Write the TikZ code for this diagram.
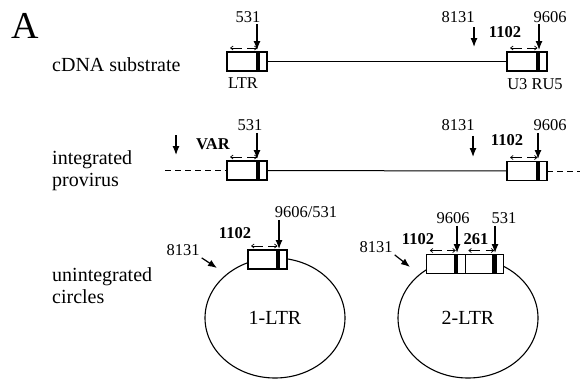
\documentclass[tikz,border=0pt]{standalone}
\usepackage{fontspec}
\setmainfont{Liberation Serif}
\usetikzlibrary{arrows.meta,shapes.geometric,positioning}

\tikzset{
  ltrBox/.style={draw, fill=white, line width=1.1pt, minimum width=40pt, minimum height=19pt, inner sep=0pt, outer sep=0pt},
  numLabel/.style={font=\fontsize{16.5}{18}\selectfont, inner sep=2pt, anchor=base},
  boldLabel/.style={numLabel, font=\fontsize{16.5}{18}\selectfont\bfseries},
  rowLabel/.style={font=\fontsize{20}{22}\selectfont, align=left, inner sep=0pt, anchor=west},
  siteArrow/.style={-{Latex[length=9pt,width=7pt]}, line width=1.2pt},
  repeatArrow/.style={{Straight Barb[length=2.5pt,width=4pt]}-{Straight Barb[length=2.5pt,width=4pt]}, line width=0.7pt, dash pattern=on 11pt off 5.5pt},
  hostDna/.style={line width=1pt, dash pattern=on 6pt off 4pt},
  ltrCircle/.style={draw, ellipse, line width=1.1pt, minimum width=140pt, minimum height=120pt, inner sep=0pt, font=\fontsize{20}{22}\selectfont}
}

\begin{document}
\begin{tikzpicture}[x=1pt, y=-1pt]
\useasboundingbox (0,0) rectangle (580,378);

% panel letter and row labels
\node[font=\fontsize{38}{40}\selectfont, anchor=base west, inner sep=0pt] (panel) at (11,38) {A};
\node[rowLabel, anchor=base west] (cdnaLbl) at (52,71) {cDNA substrate};
\node[rowLabel] (provLbl) at (52,171) {integrated\\provirus};
\node[rowLabel] (circLbl) at (52,286) {unintegrated\\circles};

% cDNA substrate
\node[ltrBox] (cdnaL) at (247,61.5) {};
\node[ltrBox] (cdnaR) at (527,61.5) {};
\draw[line width=1pt] (cdnaL) -- (cdnaR);
\node[numLabel] (ltrLbl) at (243,88) {LTR};
\node[numLabel] (u3Lbl) at (535,89) {U3 RU5};
\node[numLabel] (l531a) at (248,22) {531};
\node[numLabel] (l8131a) at (458,22) {8131};
\node[numLabel] (l9606a) at (550,22) {9606};
\node[boldLabel] (l1102a) at (505,37.5) {1102};
\coordinate (t531a) at (257,50);
\coordinate (t8131a) at (474,47);
\coordinate (t9606a) at (539,50);
\draw[siteArrow] (l531a.south -| t531a) -- (t531a);
\draw[siteArrow] ([yshift=-3pt]l8131a.south -| t8131a) -- (t8131a);
\draw[siteArrow] (l9606a.south -| t9606a) -- (t9606a);

% integrated provirus
\node[ltrBox] (provL) at (247,170.5) {};
\node[ltrBox] (provR) at (527,171) {};
\draw[line width=1pt] (provL) -- (provR);
\coordinate (hostL) at (165,170.5);
\coordinate (hostR) at (580,171);
\draw[hostDna] (hostL) -- (provL.west);
\draw[hostDna] (provR.east) -- (hostR);
\node[numLabel] (l531b) at (250,130.5) {531};
\node[boldLabel] (varLbl) at (213,149.5) {VAR};
\node[numLabel] (l8131b) at (458,130.5) {8131};
\node[numLabel] (l9606b) at (550,130.5) {9606};
\node[boldLabel] (l1102b) at (507,145.5) {1102};
\coordinate (varS) at (176,135);
\coordinate (varT) at (176,155);
\coordinate (t531b) at (257,159);
\coordinate (t8131b) at (473,157);
\coordinate (t9606b) at (538,159);
\draw[siteArrow] (varS) -- (varT);
\draw[siteArrow] (l531b.south -| t531b) -- (t531b);
\draw[siteArrow] ([yshift=-3pt]l8131b.south -| t8131b) -- (t8131b);
\draw[siteArrow] (l9606b.south -| t9606b) -- (t9606b);

% unintegrated circles
\node[ltrCircle] (oneLtr) at (275,318) {1-LTR};
\node[ltrCircle] (twoLtr) at (468,318) {2-LTR};
\node[ltrBox, minimum width=39pt] (oneL) at (267.5,259.5) {};
\node[ltrBox, minimum width=38.5pt] (twoL) at (446,264) {};
\node[ltrBox, minimum width=38.5pt, right=0pt of twoL] (twoR) {};
\node[numLabel] (l9606c) at (306,217.5) {9606/531};
\node[boldLabel] (l1102c) at (235,238.5) {1102};
\node[numLabel] (l8131c) at (183,255.5) {8131};
\node[numLabel] (l9606d) at (453,223.5) {9606};
\node[numLabel] (l531d) at (504,223.5) {531};
\node[boldLabel] (l1102d) at (418,244.5) {1102};
\node[boldLabel] (l261d) at (476,244.5) {261};
\node[numLabel] (l8131d) at (376,252.5) {8131};
\coordinate (t9606c) at (279,249);
\coordinate (t8131c) at (217,268);
\coordinate (t9606d) at (457,253);
\coordinate (t531d) at (495,253);
\coordinate (t8131d) at (410,267);
\draw[siteArrow] (l9606c.south -| t9606c) -- (t9606c);
\draw[siteArrow] (l8131c.south east) -- (t8131c);
\draw[siteArrow] (l9606d.south -| t9606d) -- (t9606d);
\draw[siteArrow] (l531d.south -| t531d) -- (t531d);
\draw[siteArrow] (l8131d.south east) -- (t8131d);

% black bars and repeat arrows on every LTR
\foreach \b in {cdnaL,cdnaR,provL,provR,oneL,twoL,twoR} {
  \fill ([xshift=-11.5pt]\b.north east) rectangle ([xshift=-7pt]\b.south east);
  \draw[repeatArrow] ([xshift=3pt,yshift=4pt]\b.north west) -- ([xshift=-9.5pt,yshift=4pt]\b.north east);
}
\end{tikzpicture}
\end{document}
